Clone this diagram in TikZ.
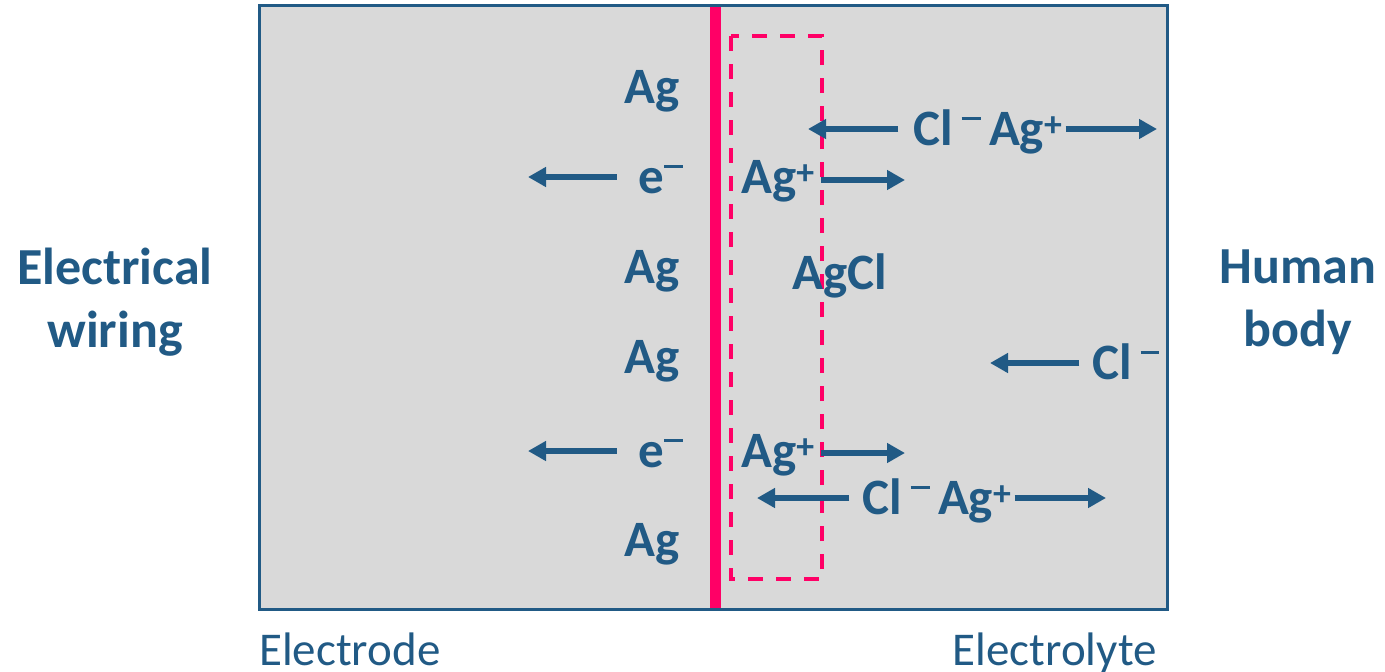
\documentclass[tikz,border=0pt]{standalone}
\usepackage{fontspec}
\setmainfont{Carlito}
\usetikzlibrary{arrows.meta}
\definecolor{ink}{HTML}{215A85}
\definecolor{panel}{HTML}{D9D9D9}
\definecolor{rim}{HTML}{FF0066}
\newcommand{\up}[1]{\textsuperscript{#1}}
\newcommand{\mn}{\rule[0.5em]{0.37em}{0.06em}}

\begin{document}
\begin{tikzpicture}[x=1pt, y=-1pt,
        ion/.style={text=ink, font=\fontsize{51}{60}\selectfont\bfseries, inner sep=0pt, text height=33pt, text depth=0pt},
        side/.style={text=ink, font=\fontsize{52}{63}\selectfont\bfseries, align=center, inner sep=0pt},
        tag/.style={text=ink, font=\fontsize{47}{56}\selectfont, inner sep=0pt},
        flow/.style={draw=ink, line width=5.5pt, -{Triangle[length=18pt,width=19pt]}}
    ]
        \useasboundingbox (0,0) rectangle (1385,672);

        % cell
        \fill[panel] (259,5) rectangle (1167,609);
        \fill[rim] (710,5) rectangle (721,609);
        \draw[rim, line width=3.5pt, dash pattern=on 15pt off 13pt] (731,36) rectangle (822,579);
        \draw[ink, line width=3pt] (259,5) rectangle (1167,609);

        % electrode side
        \node[ion] (ag1) at (652,87) {Ag};
        \node[ion] (el1) at (661,177) {e\mn};
        \node[ion] (ag2) at (652,267) {Ag};
        \node[ion] (ag3) at (652,357) {Ag};
        \node[ion] (el2) at (661,451) {e\mn};
        \node[ion] (ag4) at (652,540) {Ag};

        % electrolyte side
        \node[ion] (agp1) at (778,177) {Ag\up{+}};
        \node[ion] (agp2) at (778,451) {Ag\up{+}};
        \node[ion] (agcl) at (840,273) {AgCl};
        \node[ion] (pair1) at (988,129) {Cl\,\mn\,Ag\up{+}};
        \node[ion] (pair2) at (937,498) {Cl\,\mn\,Ag\up{+}};
        \node[ion] (cl) at (1126,363) {Cl\,\mn};

        \coordinate (e1end) at (528,177);
        \coordinate (e2end) at (528,451);
        \coordinate (a1end) at (905,180);
        \coordinate (a2end) at (905,453);
        \coordinate (p1left) at (808,129);
        \coordinate (p1right) at (1157,129);
        \coordinate (p2left) at (757,498);
        \coordinate (p2right) at (1106,498);
        \coordinate (clend) at (990,363);

        \draw[flow, shorten <=22pt] (el1.west) -- (e1end);
        \draw[flow, shorten <=22pt] (el2.west) -- (e2end);
        \draw[flow, shorten <=6pt] (agp1.east |- a1end) -- (a1end);
        \draw[flow, shorten <=6pt] (agp2.east |- a2end) -- (a2end);
        \draw[flow, shorten <=15pt] (pair1.west) -- (p1left);
        \draw[flow, shorten <=3pt] (pair1.east) -- (p1right);
        \draw[flow, shorten <=13pt] (pair2.west) -- (p2left);
        \draw[flow, shorten <=3pt] (pair2.east) -- (p2right);
        \draw[flow, shorten <=13pt] (cl.west) -- (clend);

        % outside labels
        \node[side] (wire) at (115,302) {Electrical\\wiring};
        \node[side] (body) at (1298,302) {Human\\body};
        \node[tag, anchor=base west] (trode) at (259,665) {Electrode};
        \node[tag, anchor=base east] (lyte) at (1157,665) {Electrolyte};
    \end{tikzpicture}
\end{document}
